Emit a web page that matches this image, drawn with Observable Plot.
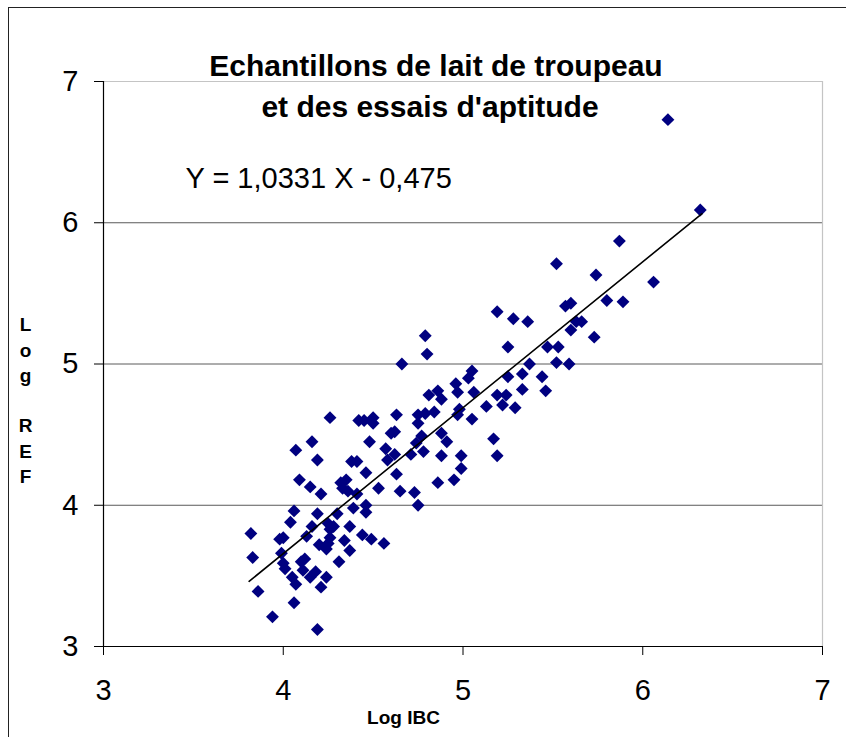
<!DOCTYPE html>
<html><head><meta charset="utf-8">
<script src="https://cdn.jsdelivr.net/npm/d3@7"></script>
<script src="https://cdn.jsdelivr.net/npm/@observablehq/plot@0.6"></script>
<style>
html,body{margin:0;padding:0;background:#fff;overflow:hidden;}
#wrap{position:relative;width:846px;height:737px;overflow:hidden;}
#wrap svg{display:block;}
#frame{position:absolute;left:8px;top:7px;width:900px;height:800px;border:1.5px solid #222;pointer-events:none;}
</style></head><body><div id="wrap"><div id="frame"></div></div>
<script>
// Log IBC values (x)
const ibc = [
  4.26,4.42,4.45,4.50,4.50,4.63,4.75,4.79,4.75,4.16,
  4.07,4.48,4.60,4.62,4.57,4.62,4.77,4.74,4.71,4.78,
  4.19,4.38,4.41,4.58,4.46,4.63,4.09,4.15,4.21,4.32,
  4.35,4.33,4.36,4.41,4.53,4.65,4.73,4.75,4.39,4.46,
  4.46,4.06,4.19,4.30,4.04,3.82,4.16,4.13,4.25,4.26,
  4.28,4.37,3.98,4.00,4.44,4.49,4.34,4.20,4.24,4.25,
  4.26,4.56,4.37,3.99,3.83,4.00,4.01,4.10,4.12,4.11,
  4.18,4.15,4.31,4.05,4.07,4.24,4.21,3.86,4.06,3.94,
  4.19,
  5.19,5.28,5.36,5.57,5.60,5.60,5.63,5.66,4.79,4.80,
  5.25,5.47,5.53,4.66,5.52,5.59,5.37,5.25,5.33,5.44,
  5.05,5.03,4.96,4.97,5.06,4.81,4.86,4.88,5.33,5.46,
  5.19,5.24,5.22,5.13,5.29,4.84,4.98,4.97,5.05,4.88,
  4.91,5.17,4.88,4.99,5.19,4.99,4.86,4.95,
  6.14,6.32,5.87,5.52,5.74,6.06,5.80,5.89,5.73
];
// Log REF values (y)
const ref = [
  4.62,4.60,4.60,4.62,4.58,4.64,4.64,4.65,4.58,4.45,
  4.39,4.45,4.51,4.52,4.40,4.36,4.49,4.44,4.36,4.38,
  4.32,4.31,4.31,4.32,4.23,4.22,4.18,4.13,4.08,4.16,
  4.18,4.12,4.10,4.08,4.12,4.10,4.09,4.00,3.98,4.00,
  3.95,3.96,3.94,3.94,3.88,3.80,3.85,3.78,3.87,3.83,
  3.85,3.85,3.76,3.77,3.79,3.76,3.75,3.72,3.69,3.73,
  3.77,3.73,3.68,3.66,3.63,3.59,3.55,3.60,3.62,3.54,
  3.53,3.49,3.60,3.49,3.44,3.49,3.42,3.39,3.31,3.21,
  3.12,
  5.37,5.32,5.30,5.41,5.43,5.24,5.30,5.30,5.20,5.07,
  5.12,5.12,5.12,5.00,5.01,5.00,5.00,4.91,4.93,4.91,
  4.95,4.90,4.86,4.80,4.80,4.78,4.81,4.75,4.82,4.81,
  4.78,4.78,4.71,4.70,4.69,4.66,4.68,4.64,4.61,4.51,
  4.45,4.47,4.35,4.35,4.35,4.26,4.16,4.18,
  6.73,6.09,5.87,5.71,5.63,5.58,5.45,5.44,5.19
];
const xTicks = [3, 4, 5, 6, 7];
const yTicks = [3, 4, 5, 6, 7];
const gridValues = [4, 5, 6];
const slope = 1.0331, intercept = -0.475;
const fitRange = [3.81, 6.33];
const titleLines = ["Echantillons de lait de troupeau", "et des essais d'aptitude"];
const equationText = ["Y = 1,0331 X - 0,475"];
const xLabel = ["Log IBC"];
const yLabel = ["L\no\ng\n\nR\nE\nF"];

const points = ibc.map((x, i) => ({x, y: ref[i]}));
const fit = fitRange.map(x => ({x, y: slope * x + intercept}));
const intFmt = d => String(d);

const chart = Plot.plot({
  width: 846, height: 737,
  marginLeft: 103, marginRight: 24, marginTop: 81, marginBottom: 91,
  x: {domain: [3, 7]},
  y: {domain: [3, 7]},
  style: {fontFamily: "'Liberation Sans', Arial, sans-serif", background: "transparent", color: "#000"},
  marks: [
    Plot.ruleY(gridValues, {stroke: "#5a5a5a", strokeWidth: 1}),
    Plot.ruleY([7], {stroke: "#c4c4c4", strokeWidth: 1.2}),
    Plot.ruleX([7], {stroke: "#c4c4c4", strokeWidth: 1.2}),
    Plot.dot(points, {x: "x", y: "y", symbol: "diamond2", r: 5.8, fill: "#000080", stroke: "none"}),
    Plot.line(fit, {x: "x", y: "y", stroke: "#000", strokeWidth: 1.6}),
    Plot.ruleX([3], {stroke: "#000", strokeWidth: 1.2}),
    Plot.ruleY([3], {stroke: "#000", strokeWidth: 1.2}),
    Plot.axisX({ticks: xTicks, tickFormat: intFmt, tickSize: 9, tickPadding: 24, fontSize: 29, label: null}),
    Plot.axisY({ticks: yTicks, tickFormat: intFmt, tickSize: 9, tickPadding: 16, fontSize: 29, label: null}),
    Plot.text([titleLines[0]], {text: d => d, frameAnchor: "top", lineAnchor: "middle", dx: -27, dy: -15, fontSize: 30, fontWeight: "bold"}),
    Plot.text([titleLines[1]], {text: d => d, frameAnchor: "top", lineAnchor: "middle", dx: -33, dy: 26, fontSize: 30, fontWeight: "bold"}),
    Plot.text(equationText, {text: d => d, frameAnchor: "top-left", lineAnchor: "middle", textAnchor: "start", dx: 82, dy: 97, fontSize: 29}),
    Plot.text(xLabel, {text: d => d, frameAnchor: "bottom", lineAnchor: "middle", dx: -59.5, dy: 71, fontSize: 19, fontWeight: "bold"}),
    Plot.text(yLabel, {text: d => d, frameAnchor: "left", lineAnchor: "middle", dx: -78, dy: 35, fontSize: 19, fontWeight: "bold", lineHeight: 1.33, textAnchor: "middle"})
  ]
});
document.getElementById("wrap").prepend(chart);
</script>
</body></html>
